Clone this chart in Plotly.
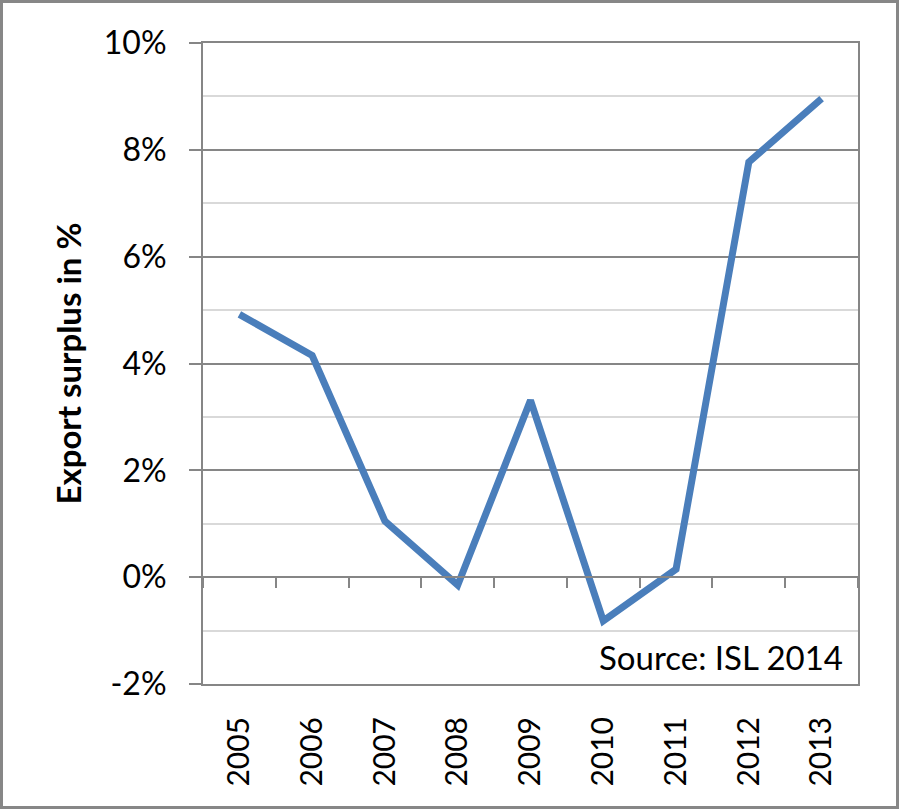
import plotly.graph_objects as go

years = ["2005", "2006", "2007", "2008", "2009", "2010", "2011", "2012", "2013"]
surplus = [4.92, 4.15, 1.05, -0.15, 3.31, -0.82, 0.15, 7.77, 8.96]
y_tickvals = [-2, 0, 2, 4, 6, 8, 10]
y_ticktext = ["-2%", "0%", "2%", "4%", "6%", "8%", "10%"]
y_title = "Export surplus in %"
source_note = "Source: ISL 2014"

W, H = 901, 810
ML, MR, MT, MB = 203, 43, 43, 126
pw, ph = W - ML - MR, H - MT - MB
FONT = "Lato"
FS = 32
GRAY = "#868686"

fig = go.Figure()
fig.add_trace(go.Scatter(x=years, y=surplus, mode="lines",
                         line=dict(color="#4a7ebb", width=7),
                         xaxis="x", yaxis="y", showlegend=False))
fig.add_trace(go.Scatter(x=years, y=surplus, mode="lines",
                         line=dict(color="rgba(0,0,0,0)", width=0),
                         xaxis="x2", yaxis="y", showlegend=False, hoverinfo="skip"))

ymin, ymax = -2, 10
fig.update_layout(
    width=W, height=H,
    margin=dict(l=ML, r=MR, t=MT, b=MB, autoexpand=False),
    paper_bgcolor="white", plot_bgcolor="white",
    font=dict(family=FONT, size=FS, color="black"),
    xaxis=dict(type="category", categoryorder="array", categoryarray=years,
               range=[-0.5, len(years) - 0.5],
               showline=True, linecolor=GRAY, linewidth=2, mirror=True,
               ticks="", showgrid=False, tickangle=-90,
               tickfont=dict(family=FONT, size=30),
               ticklabelstandoff=19, zeroline=False),
    xaxis2=dict(type="category", categoryorder="array", categoryarray=years,
                matches="x", overlaying="x", anchor="free",
                position=(0 - ymin) / (ymax - ymin),
                showline=True, linecolor=GRAY, linewidth=2,
                ticks="outside", tickson="boundaries", ticklen=10,
                tickcolor=GRAY, tickwidth=2,
                showticklabels=False, showgrid=False, zeroline=False),
    yaxis=dict(range=[ymin, ymax], tickmode="array", tickvals=y_tickvals,
               ticktext=y_ticktext, showline=True, linecolor=GRAY, linewidth=2,
               mirror=True, ticks="outside", ticklen=12, tickcolor=GRAY, tickwidth=2,
               showgrid=True, gridcolor=GRAY, gridwidth=2, zeroline=False,
               ticklabelstandoff=16,
               minor=dict(dtick=1, tick0=0, showgrid=True, gridcolor="#d9d9d9",
                          gridwidth=2, ticks=""),
               title=dict(text="<b>" + y_title + "</b>", standoff=12,
                          font=dict(family=FONT, size=33))),
)

fig.add_annotation(text=source_note, xref="paper", yref="paper",
                   x=(845 - ML) / pw, y=(684 - 657) / ph,
                   xanchor="right", yanchor="middle", showarrow=False,
                   font=dict(family=FONT, size=33, color="black"))

# outer chart border
fig.add_shape(type="rect", xref="paper", yref="paper",
              x0=(1.5 - ML) / pw, x1=(897.5 - ML) / pw,
              y0=(H - MB - 807.5) / ph, y1=(H - MB - 1.5) / ph,
              line=dict(color="#878787", width=3), fillcolor="rgba(0,0,0,0)",
              layer="above")

fig.write_html("out.html", config={"displayModeBar": False},
               post_script="document.body.style.margin='0';document.body.style.overflow='hidden';")
